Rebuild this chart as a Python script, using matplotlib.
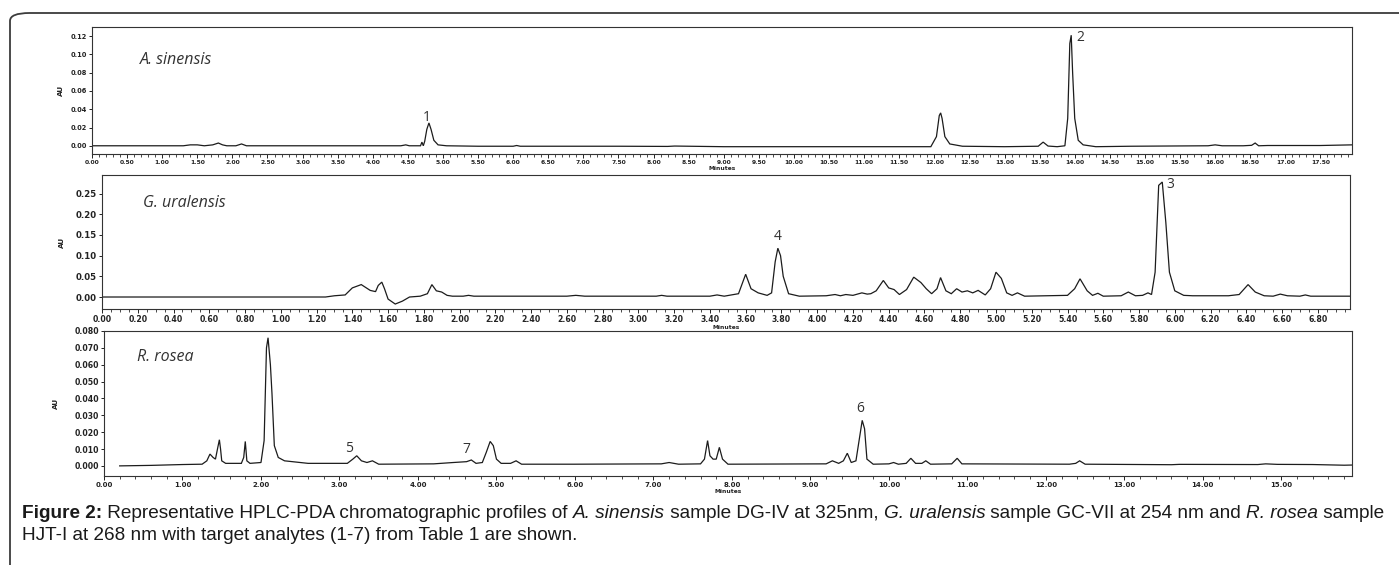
import matplotlib
matplotlib.use("Agg")
import matplotlib.pyplot as plt
from matplotlib.ticker import MultipleLocator, FormatStrFormatter
from matplotlib.patches import FancyBboxPatch

# ---------------- data ----------------
# A. sinensis trace (325 nm)
a_time = [0.00, 1.30, 1.40, 1.50, 1.60, 1.72, 1.80, 1.86, 1.92, 2.05, 2.13, 2.20, 2.30, 3.00,
          4.40, 4.47, 4.52, 4.68, 4.70, 4.72, 4.74, 4.77, 4.80, 4.83, 4.87, 4.93, 5.05, 5.50,
          6.00, 6.05, 6.10, 7.50, 8.20, 8.30, 9.00, 11.50, 11.95, 12.03, 12.07, 12.09, 12.11,
          12.15, 12.22, 12.40, 13.00, 13.48, 13.55, 13.62, 13.75, 13.86, 13.90, 13.93, 13.95,
          13.97, 14.00, 14.05, 14.12, 14.30, 14.80, 15.90, 16.00, 16.10, 16.40, 16.52, 16.57,
          16.62, 16.75, 17.50, 17.95]
a_abs = [0.000, 0.000, 0.001, 0.001, 0.000, 0.001, 0.003, 0.001, 0.000, 0.000, 0.002, 0.000, 0.000, 0.000,
         0.000, 0.001, 0.000, 0.000, 0.004, 0.000, 0.005, 0.018, 0.025, 0.018, 0.006, 0.001, 0.000, -0.0005,
         -0.0005, 0.0003, -0.0005, -0.0005, -0.0007, -0.0003, -0.001, -0.001, -0.001, 0.010, 0.033, 0.036, 0.030,
         0.010, 0.002, -0.0005, -0.001, -0.0005, 0.004, -0.0003, -0.001, 0.000, 0.030, 0.112, 0.121,
         0.080, 0.030, 0.006, 0.001, -0.001, -0.0005, 0.000, 0.001, 0.000, 0.000, 0.0005, 0.003,
         0.000, 0.0003, 0.0003, 0.001]

# G. uralensis trace (254 nm)
g_time = [0.00, 1.25, 1.30, 1.36, 1.40, 1.45, 1.50, 1.53, 1.545, 1.565, 1.58, 1.60, 1.64, 1.68, 1.72,
          1.78, 1.82, 1.845, 1.87, 1.90, 1.93, 1.96, 2.02, 2.05, 2.08, 2.60, 2.65, 2.70, 3.10, 3.13,
          3.16, 3.40, 3.44, 3.48, 3.56, 3.60, 3.63, 3.67, 3.72, 3.745, 3.765, 3.78, 3.795, 3.81, 3.84,
          3.90, 4.05, 4.10, 4.13, 4.16, 4.20, 4.25, 4.28, 4.30, 4.33, 4.37, 4.40, 4.43, 4.46, 4.50,
          4.54, 4.58, 4.61, 4.64, 4.67, 4.69, 4.72, 4.75, 4.78, 4.81, 4.84, 4.87, 4.90, 4.94, 4.97,
          5.00, 5.03, 5.06, 5.09, 5.12, 5.16, 5.40, 5.44, 5.47, 5.51, 5.54, 5.57, 5.60, 5.70, 5.74,
          5.78, 5.82, 5.85, 5.87, 5.89, 5.91, 5.93, 5.95, 5.97, 6.00, 6.05, 6.10, 6.30, 6.36, 6.41,
          6.45, 6.50, 6.55, 6.59, 6.63, 6.70, 6.73, 6.76, 6.98]
g_abs = [0.000, 0.000, 0.003, 0.005, 0.022, 0.030, 0.016, 0.013, 0.028, 0.036, 0.020, -0.005, -0.017, -0.010, 0.000,
         0.002, 0.008, 0.030, 0.015, 0.012, 0.004, 0.002, 0.002, 0.004, 0.002, 0.002, 0.004, 0.002, 0.002, 0.004,
         0.002, 0.002, 0.005, 0.002, 0.008, 0.055, 0.020, 0.010, 0.004, 0.010, 0.085, 0.118, 0.100, 0.050, 0.008,
         0.002, 0.003, 0.006, 0.003, 0.006, 0.004, 0.010, 0.007, 0.008, 0.015, 0.040, 0.022, 0.018, 0.006, 0.018,
         0.048, 0.035, 0.020, 0.008, 0.020, 0.047, 0.015, 0.008, 0.020, 0.012, 0.015, 0.010, 0.016, 0.005, 0.020,
         0.060, 0.045, 0.010, 0.004, 0.010, 0.002, 0.004, 0.020, 0.044, 0.015, 0.004, 0.009, 0.002, 0.003, 0.012,
         0.003, 0.004, 0.010, 0.006, 0.060, 0.270, 0.278, 0.180, 0.060, 0.015, 0.004, 0.003, 0.003, 0.006, 0.030,
         0.012, 0.003, 0.002, 0.007, 0.003, 0.002, 0.005, 0.002, 0.002]

# R. rosea trace (268 nm)
r_time = [0.20, 0.60, 1.00, 1.25, 1.31, 1.35, 1.39, 1.42, 1.45, 1.47, 1.485, 1.50, 1.55, 1.75, 1.78,
          1.80, 1.82, 1.86, 2.00, 2.04, 2.07, 2.09, 2.12, 2.14, 2.17, 2.22, 2.30, 2.60, 3.10, 3.17,
          3.22, 3.28, 3.35, 3.42, 3.50, 4.20, 4.45, 4.62, 4.68, 4.74, 4.82, 4.87, 4.92, 4.96, 5.00,
          5.06, 5.18, 5.25, 5.32, 6.00, 7.10, 7.20, 7.32, 7.60, 7.65, 7.69, 7.72, 7.76, 7.80, 7.84,
          7.88, 7.95, 9.20, 9.28, 9.36, 9.42, 9.47, 9.52, 9.58, 9.63, 9.66, 9.69, 9.72, 9.80, 10.00,
          10.06, 10.12, 10.22, 10.28, 10.34, 10.42, 10.47, 10.53, 10.80, 10.87, 10.93, 12.30, 12.38, 12.43,
          12.50, 13.60, 13.70, 14.70, 14.80, 14.95, 15.40, 15.80, 15.90]
r_abs = [0.000, 0.0003, 0.0008, 0.001, 0.003, 0.007, 0.005, 0.004, 0.011, 0.0155, 0.010, 0.003, 0.0015, 0.0015, 0.005,
         0.0145, 0.003, 0.0015, 0.002, 0.015, 0.070, 0.076, 0.060, 0.043, 0.012, 0.005, 0.003, 0.0015, 0.0015, 0.004,
         0.006, 0.003, 0.002, 0.003, 0.001, 0.0012, 0.002, 0.0025, 0.0035, 0.0015, 0.002, 0.008, 0.0145, 0.012, 0.004,
         0.0015, 0.0015, 0.003, 0.001, 0.001, 0.0012, 0.002, 0.001, 0.0012, 0.004, 0.015, 0.006, 0.004, 0.004, 0.011,
         0.004, 0.001, 0.0012, 0.003, 0.0015, 0.003, 0.0075, 0.002, 0.003, 0.018, 0.027, 0.022, 0.004, 0.001, 0.0012,
         0.002, 0.001, 0.0015, 0.0045, 0.0015, 0.0015, 0.003, 0.001, 0.0012, 0.0045, 0.0012, 0.001, 0.0015, 0.003,
         0.001, 0.0007, 0.0009, 0.0008, 0.0012, 0.0009, 0.0008, 0.0004, 0.0005]

# panel titles, peak numbers and their positions (time, AU)
species = ["A. sinensis", "G. uralensis", "R. rosea"]
a_peaks = [("1", 4.77, 0.031), ("2", 14.03, 0.119)]
g_peaks = [("4", 3.78, 0.146), ("3", 5.955, 0.273)]
r_peaks = [("5", 3.12, 0.0105), ("7", 4.62, 0.0095), ("6", 9.63, 0.034)]

caption1 = [("Figure 2:", "bold", "normal"),
            (" Representative HPLC-PDA chromatographic profiles of ", "normal", "normal"),
            ("A. sinensis", "normal", "italic"),
            (" sample DG-IV at 325nm, ", "normal", "normal"),
            ("G. uralensis", "normal", "italic"),
            (" sample GC-VII at 254 nm and ", "normal", "normal"),
            ("R. rosea", "normal", "italic"),
            (" sample", "normal", "normal")]
caption2 = "HJT-I at 268 nm with target analytes (1-7) from Table 1 are shown."

# ---------------- figure ----------------
W, H = 1399, 565
fig = plt.figure(figsize=(W / 100, H / 100), dpi=100)
fig.patch.set_facecolor("white")

def rect(l, t, r, b):
    return [l / W, 1 - b / H, (r - l) / W, (b - t) / H]

# outer rounded frame (open to right / bottom as in the page crop)
frame = FancyBboxPatch((10 / W, -0.2), 1.2, (1 - 13 / H) + 0.2,
                       boxstyle="round,pad=0,rounding_size=0.014",
                       transform=fig.transFigure, fill=False,
                       edgecolor="#3c3c3c", linewidth=1.3, clip_on=False)
fig.patches.append(frame)

TRACE = "#1c1c1c"
panels = [
    dict(pos=rect(92, 27, 1352, 154), t=a_time, y=a_abs, xlim=(0, 17.95), ylim=(-0.009, 0.13),
         xmaj=0.5, xmin=0.1, ymaj=0.02, xfmt="%.2f", yfmt="%.2f", xfs=4.3, yfs=4.8,
         peaks=a_peaks, title=species[0], tpos=(0.68, 0.094), xlabpad=0.5, ylx=-0.022),
    dict(pos=rect(102, 175, 1350, 309), t=g_time, y=g_abs, xlim=(0, 6.98), ylim=(-0.029, 0.295),
         xmaj=0.2, xmin=0.05, ymaj=0.05, xfmt="%.2f", yfmt="%.2f", xfs=5.6, yfs=6.2,
         peaks=g_peaks, title=species[1], tpos=(0.23, 0.227), xlabpad=0.3, ylx=-0.03),
    dict(pos=rect(104, 331, 1352, 476), t=r_time, y=r_abs, xlim=(0, 15.9), ylim=(-0.006, 0.080),
         xmaj=1.0, xmin=0.2, ymaj=0.01, xfmt="%.2f", yfmt="%.3f", xfs=5.0, yfs=5.6,
         peaks=r_peaks, title=species[2], tpos=(0.42, 0.0645), xlabpad=0.5, ylx=-0.036),
]

for p in panels:
    ax = fig.add_axes(p["pos"])
    ax.plot(p["t"], p["y"], color=TRACE, lw=0.9, solid_joinstyle="miter")
    ax.set_xlim(*p["xlim"])
    ax.set_ylim(*p["ylim"])
    ax.xaxis.set_major_locator(MultipleLocator(p["xmaj"]))
    ax.xaxis.set_minor_locator(MultipleLocator(p["xmin"]))
    ax.yaxis.set_major_locator(MultipleLocator(p["ymaj"]))
    ax.xaxis.set_major_formatter(FormatStrFormatter(p["xfmt"]))
    ax.yaxis.set_major_formatter(FormatStrFormatter(p["yfmt"]))
    ax.set_yticks([v for v in ax.get_yticks() if v >= -1e-9 and v <= p["ylim"][1] + 1e-9])
    ax.set_xticks([v for v in ax.get_xticks() if v >= -1e-9 and v <= p["xlim"][1] - 0.02])
    ax.tick_params(axis="x", which="major", length=3, width=0.7, pad=1.5,
                   labelsize=p["xfs"], colors="#222222")
    ax.tick_params(axis="x", which="minor", length=1.8, width=0.5)
    ax.tick_params(axis="y", which="major", length=2.5, width=0.7, pad=1.2,
                   labelsize=p["yfs"], colors="#222222")
    for lab in ax.get_xticklabels() + ax.get_yticklabels():
        lab.set_fontweight("bold")
    for s in ax.spines.values():
        s.set_color("#333333")
        s.set_linewidth(0.8)
    ax.set_xlabel("Minutes", fontsize=4.3, fontweight="bold", labelpad=p["xlabpad"], color="#222222")
    ax.set_ylabel("AU", fontsize=5.2, fontweight="bold", color="#222222")
    ax.yaxis.set_label_coords(p["ylx"], 0.5)
    ax.text(p["tpos"][0], p["tpos"][1], p["title"], fontsize=11.5, style="italic",
            family=["Open Sans", "DejaVu Sans"], color="#333333", va="center", ha="left")
    for lab, tx, ty in p["peaks"]:
        ha = "left" if lab in ("2", "3") else "center"
        ax.text(tx, ty, lab, fontsize=10, family=["Open Sans", "DejaVu Sans"],
                color="#333333", ha=ha, va="center")

# caption
renderer = fig.canvas.get_renderer()
cap_fam = ["Liberation Sans", "DejaVu Sans"]
cap_fs = 13.7
x = 22
y1 = 1 - 514 / H
for txt, wt, st in caption1:
    t = fig.text(x / W, y1, txt, fontsize=cap_fs, fontweight=wt, style=st,
                 family=cap_fam, va="center", ha="left", color="#1a1a1a")
    x += t.get_window_extent(renderer).width
fig.text(22 / W, 1 - 536 / H, caption2, fontsize=cap_fs, family=cap_fam,
         va="center", ha="left", color="#1a1a1a")

fig.savefig("out.png", dpi=100)
